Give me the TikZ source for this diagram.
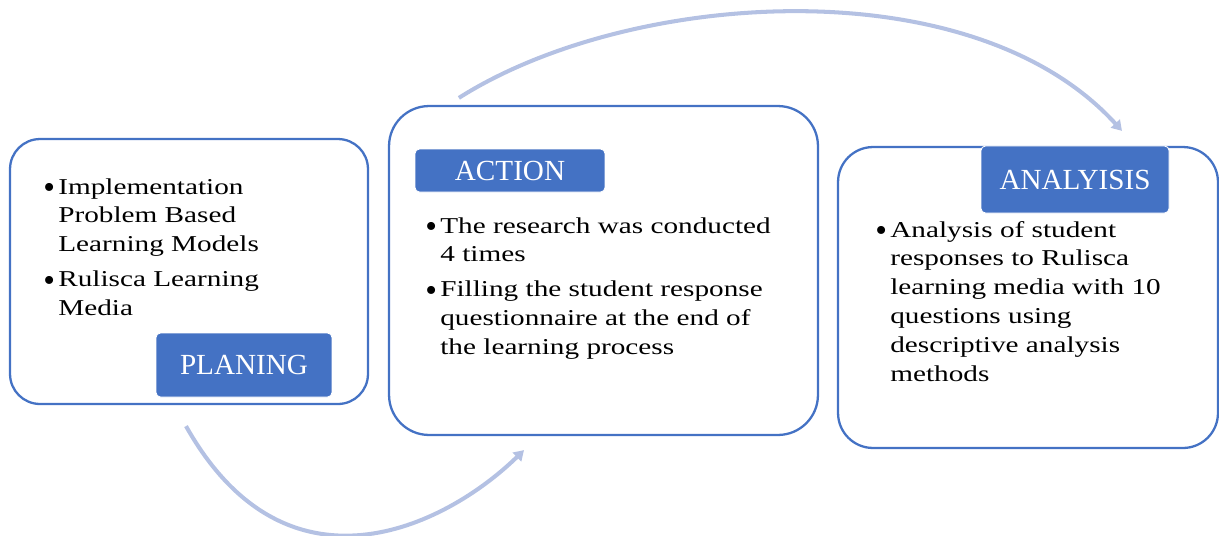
\documentclass[tikz,border=0pt]{standalone}
\usepackage{fontspec}
\setmainfont{Liberation Serif}
\newfontfamily\bodyserif[FakeStretch=1.29]{Liberation Serif}
\usetikzlibrary{arrows.meta}
\definecolor{accent}{RGB}{68,114,196}
\definecolor{pale}{RGB}{180,193,227}
\newcommand{\bodyfont}{\bodyserif\fontsize{12.9}{16.4}\selectfont}
\newcommand{\tagfont}{\fontsize{16.6}{19}\selectfont}
\newcommand{\bul}{\makebox[0.3cm][l]{\raisebox{-2.7pt}{\normalfont\fontsize{19}{16}\selectfont\textbullet}}}
\newcommand{\bullets}[1]{\begin{tabular}[t]{@{}l@{}l@{}}#1\end{tabular}}
\begin{document}
\begin{tikzpicture}[x=0.02cm,y=-0.02cm,
    stage/.style={draw=accent,line width=1.3pt,inner sep=0},
    tag/.style={fill=accent,draw=white,line width=0.5pt,rounded corners=2.5pt,text=white,font=\tagfont,inner sep=0},
    notes/.style={anchor=base west,inner sep=0,font=\bodyfont},
    turn/.style={draw=pale,line width=2.3pt,-{Triangle[length=0.2cm,width=0.24cm]}}]
  \useasboundingbox (0,0) rectangle (1219,535);
  \node[stage,rounded corners=0.6cm,minimum width=7.16cm,minimum height=5.3cm] (plan) at (189,271.5) {};
  \node[stage,rounded corners=0.8cm,minimum width=8.58cm,minimum height=6.58cm] (act) at (603.5,270.5) {};
  \node[stage,rounded corners=0.7cm,minimum width=7.6cm,minimum height=6.02cm] (anal) at (1028,297.5) {};
  \draw[turn] ([xshift=1.42cm,yshift=0.14cm]act.north west) .. controls +(170,-108) and +(-150,-165) .. ([xshift=1.88cm,yshift=0.3cm]anal.north);
  \draw[turn] ([xshift=-0.06cm,yshift=-0.42cm]plan.south) .. controls +(100,178) and +(-80,78) .. ([xshift=-1.59cm,yshift=-0.28cm]act.south);
  \node[tag,minimum width=3.52cm,minimum height=1.28cm] (plantag) at (244,365) {PLANING};
  \node[tag,minimum width=3.8cm,minimum height=0.86cm] (acttag) at (510,170.5) {ACTION};
  \node[tag,minimum width=3.76cm,minimum height=1.34cm] (analtag) at (1075,179.5) {ANALYISIS};
  \node[notes] (plantext) at (43,194) {\bullets{\bul&Implementation\\&Problem Based\\&Learning Models\\[0.12cm]
      \bul&Rulisca Learning\\&Media}};
  \node[notes] (acttext) at (425,233) {\bullets{\bul&The research was conducted\\&4 times\\[0.12cm]
      \bul&Filling the student response\\&questionnaire at the end of\\&the learning process}};
  \node[notes] (analtext) at (875,237) {\bullets{\bul&Analysis of student\\&responses to Rulisca\\&learning media with 10\\
      &questions using\\&descriptive analysis\\&methods}};
\end{tikzpicture}
\end{document}
